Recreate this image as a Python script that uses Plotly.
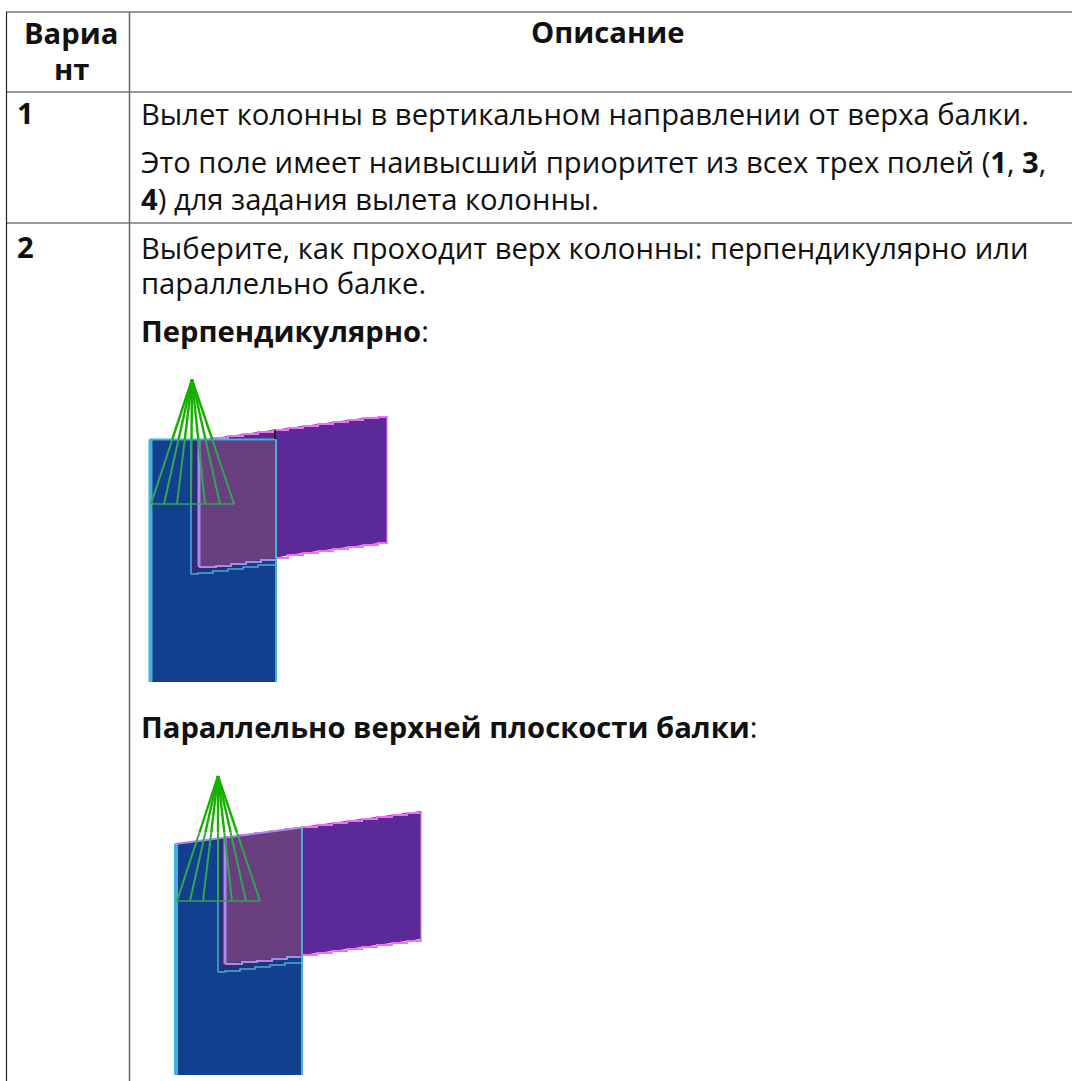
import plotly.graph_objects as go

W, H = 1072, 1081

# ---- text content ----
text_lines = [
    "<b>Вариа</b>", "<b>нт</b>", "<b>Описание</b>", "<b>1</b>",
    "Вылет колонны в вертикальном направлении от верха балки.",
    "Это поле имеет наивысший приоритет из всех трех полей (<b>1</b>, <b>3</b>,",
    "<b>4</b>) для задания вылета колонны.",
    "<b>2</b>",
    "Выберите, как проходит верх колонны: перпендикулярно или",
    "параллельно балке.",
    "<b>Перпендикулярно</b>:",
    "<b>Параллельно верхней плоскости балки</b>:",
]
text_x = [71, 71, 608, 15, 139, 139, 139, 15, 139, 139, 139, 139]
text_y = [33, 69, 32, 113, 114, 162, 199, 247, 248, 283, 331, 727]
text_anchor = ["center", "center", "center", "left", "left", "left", "left", "left", "left", "left", "left", "left"]

# ---- table rules ----
rule_x0 = [6, 6, 6, 129.5, 6.5]
rule_x1 = [1072, 1072, 1072, 129.5, 6.5]
rule_y0 = [12, 92, 223, 12, 12]
rule_y1 = [12, 92, 223, 1081, 1081]
rule_color = ["#777777", "#333333", "#333333", "#666666", "#222222"]
rule_width = [1.6, 1.2, 1.2, 1.5, 1.2]

# ---- diagrams: column, beam, notch, cone (stepped outlines read from the raster) ----
d1 = dict(
    col_x=[149.5, 276, 276, 149.5, 149.5], col_y=[439.5, 439.5, 682, 682, 439.5],
    beam_top_x=[199, 213, 228, 243, 258, 273, 288, 303, 318, 333, 348, 363, 378, 387],
    beam_top_y=[440, 438, 436, 434, 432, 430, 428, 426, 424, 422, 420, 418, 417, 416],
    beam_bot_x=[387, 378, 363, 348, 333, 318, 303, 288, 276, 261, 246, 231, 216, 199],
    beam_bot_y=[542, 543, 545, 547, 549, 551, 553, 555, 558, 560, 562, 564, 566, 567],
    over_top_x=[199, 276], over_top_y=[440.5, 440.5],
    notch_x=[191, 191, 198, 213, 228, 243, 258, 276],
    notch_y=[440, 574, 573, 571, 569, 567, 565, 564],
    col_top_x=[149.5, 276], col_top_y=[439.5, 439.5],
    tick_x=[275, 275], tick_y=[430, 439],
    apex=(192, 379.5), base_y=504, base_x=[151, 164, 177, 191, 205, 220, 234],
)
d2 = dict(
    col_x=[175, 302, 302, 175, 175], col_y=[844, 827.5, 1075, 1075, 844],
    beam_top_x=[225, 240, 255, 270, 285, 302, 317, 332, 347, 362, 377, 392, 407, 421],
    beam_top_y=[837, 835, 833, 831, 829, 827, 825, 823, 821, 819, 817, 815, 813, 811],
    beam_bot_x=[421, 407, 392, 377, 362, 347, 332, 317, 302, 287, 272, 257, 242, 225],
    beam_bot_y=[939, 941, 943, 945, 947, 949, 951, 953, 955, 957, 959, 961, 962, 964],
    over_top_x=[225, 302], over_top_y=[838, 828],
    notch_x=[218, 218, 225, 240, 255, 270, 285, 302],
    notch_y=[838, 972, 971, 969, 967, 965, 963, 961],
    col_top_x=[175, 302], col_top_y=[844, 827.5],
    tick_x=[], tick_y=[],
    apex=(218, 776), base_y=901, base_x=[177, 190, 203, 218, 232, 246, 260],
)

BLUE, CYAN = "#123f8e", "#45b0d8"
PURPLE, PINK = "#5b2a98", "#f070f0"
OVER, LILAC = "#6a3f80", "#a98ae8"
DARK = "#2a2f78"
GREEN, TEAL = "#18b000", "#2fa84f"

fig = go.Figure()


def poly(x, y, fill):
    fig.add_trace(go.Scatter(x=x, y=y, mode="lines", fill="toself", fillcolor=fill,
                             line=dict(width=0), hoverinfo="skip", showlegend=False))


def path(x, y, color, lw=1.5, shape="linear"):
    fig.add_trace(go.Scatter(x=x, y=y, mode="lines", line=dict(color=color, width=lw, shape=shape),
                             hoverinfo="skip", showlegend=False))


for d in (d1, d2):
    cx, cy = d["col_x"], d["col_y"]
    right = cx[1]
    # beam: fill, then stepped pink edges
    poly(d["beam_top_x"] + d["beam_bot_x"], d["beam_top_y"] + d["beam_bot_y"], PURPLE)
    path(d["beam_top_x"], d["beam_top_y"], PINK, 2, "hv")
    path(d["beam_bot_x"], d["beam_bot_y"], PINK, 2, "vh")
    path([d["beam_top_x"][-1]] * 2, [d["beam_top_y"][-1], d["beam_bot_y"][0]], PINK, 1)
    # column without a closing bottom edge
    poly(cx, cy, BLUE)
    # part of the beam seen through the column
    bot = [(x, y) for x, y in zip(d["beam_bot_x"], d["beam_bot_y"]) if x <= right]
    nx, ny = d["notch_x"], d["notch_y"]
    over_x = d["over_top_x"] + [p[0] for p in bot]
    over_y = d["over_top_y"] + [p[1] for p in bot]
    # dark strip between notch line and beam end
    poly([nx[0]] + over_x + nx[:0:-1], [ny[0]] + over_y + ny[:0:-1], DARK)
    poly(over_x, over_y, OVER)
    path([p[0] for p in bot], [p[1] for p in bot], LILAC, 2, "vh")
    path([d["over_top_x"][0], bot[-1][0]], [d["over_top_y"][0], bot[-1][1]], LILAC, 3)
    path(nx[1:], ny[1:], CYAN, 1.5, "hv")
    path(nx[:2], ny[:2], CYAN, 1.5)
    # column edges: left thick, right thin, top thin
    path([cx[0] + 1, cx[3] + 1], [cy[0], cy[3]], CYAN, 4)
    path([cx[1], cx[2]], [cy[1], cy[2]], CYAN, 2)
    path(d["col_top_x"], d["col_top_y"], CYAN if d is d1 else LILAC, 2)
    if d["tick_x"]:
        path(d["tick_x"], d["tick_y"], "#30102a", 2)
    # cone
    ax, ay = d["apex"]
    by = d["base_y"]
    top_y = min(cy[0], cy[1]) + (0 if d is d1 else 5)
    path([d["base_x"][0], d["base_x"][-1]], [by, by], TEAL, 1.6)
    for bx in d["base_x"]:
        t = (top_y - ay) / (by - ay)
        mx = ax + (bx - ax) * t
        path([ax, mx], [ay, top_y], GREEN, 2.4)
        path([mx, bx], [top_y, by], TEAL, 2)

shapes = [dict(type="line", xref="x", yref="y", x0=a, x1=b, y0=c, y1=e,
               line=dict(color=col, width=w))
          for a, b, c, e, col, w in zip(rule_x0, rule_x1, rule_y0, rule_y1, rule_color, rule_width)]

annotations = [dict(x=x, y=y, xref="x", yref="y", text=t, showarrow=False, xanchor=a, yanchor="middle",
                    align=a, font=dict(family="Open Sans", size=29.2, color="#111111"))
               for t, x, y, a in zip(text_lines, text_x, text_y, text_anchor)]

fig.update_layout(
    width=W, height=H, margin=dict(l=0, r=0, t=0, b=0),
    plot_bgcolor="white", paper_bgcolor="white",
    xaxis=dict(range=[0, W], visible=False, fixedrange=True),
    yaxis=dict(range=[H, 0], visible=False, fixedrange=True),
    shapes=shapes, annotations=annotations, showlegend=False,
)
fig.write_html("out.html", config={"displayModeBar": False},
               post_script="document.body.style.margin='0';")
